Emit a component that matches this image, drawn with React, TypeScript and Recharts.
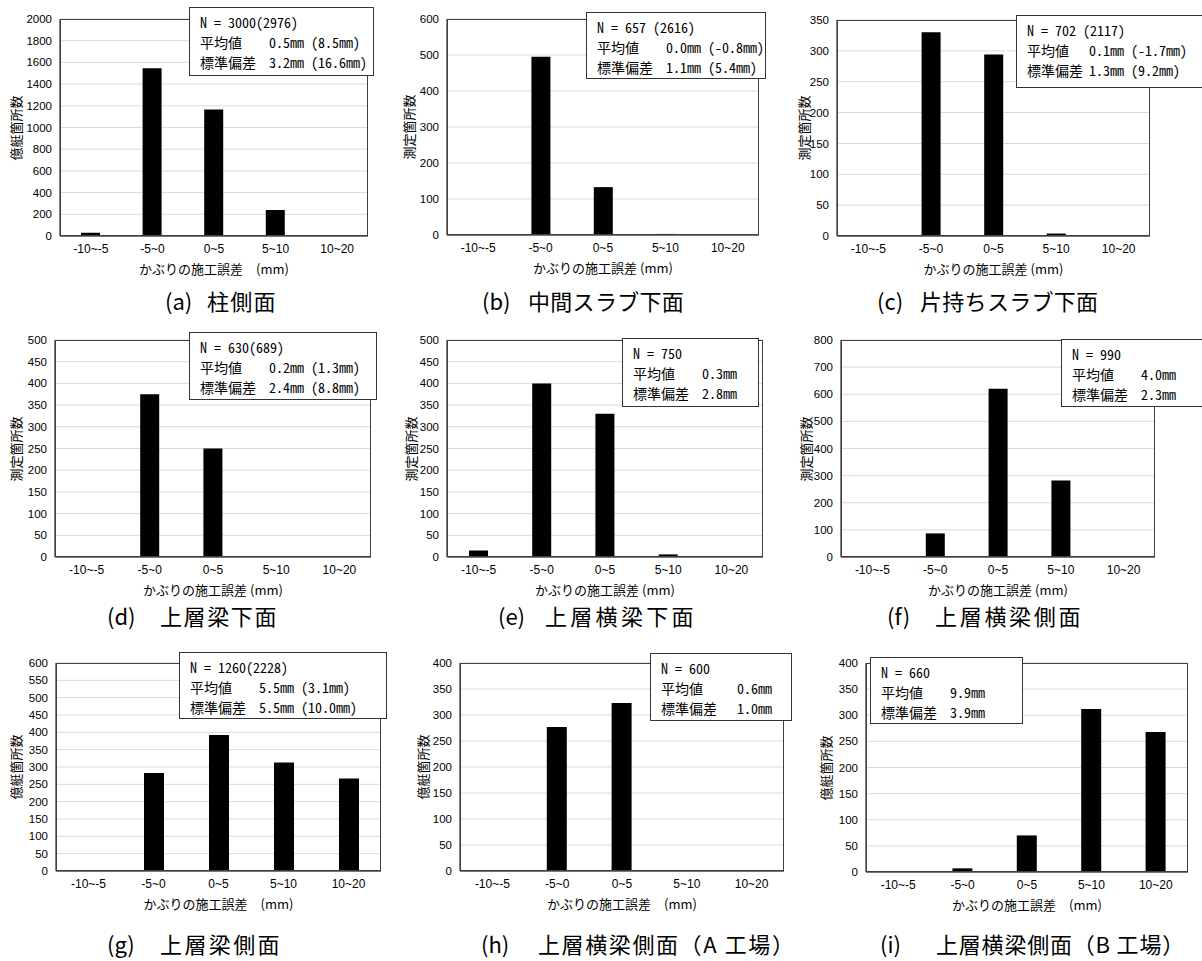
import { BarChart, Bar, XAxis, YAxis, CartesianGrid } from 'recharts'

// bins of cover construction error (mm)
const CATEGORIES = ['-10~-5', '-5~0', '0~5', '5~10', '10~20']

const countsA = [30, 1545, 1165, 240, 8]
const countsB = [0, 495, 133, 3, 0]
const countsC = [0, 330, 294, 4, 0]
const countsD = [2, 375, 250, 2, 0]
const countsE = [15, 400, 330, 6, 2]
const countsF = [0, 87, 620, 282, 0]
const countsG = [0, 283, 392, 313, 267]
const countsH = [0, 277, 323, 0, 0]
const countsI = [0, 7, 70, 312, 268]
const COUNTS = [countsA, countsB, countsC, countsD, countsE, countsF, countsG, countsH, countsI]

const Y_MAX = [2000, 600, 350, 500, 500, 800, 600, 400, 400]
const Y_STEP = [200, 100, 50, 50, 50, 100, 50, 50, 50]

const PREFIXES = ['(a)', '(b)', '(c)', '(d)', '(e)', '(f)', '(g)', '(h)', '(i)']
const CAPTIONS = [
  '柱側面',
  '中間スラブ下面',
  '片持ちスラブ下面',
  '上層梁下面',
  '上層横梁下面',
  '上層横梁側面',
  '上層梁側面',
  '上層横梁側面（A 工場）',
  '上層横梁側面（B 工場）',
]
const Y_TITLES = [
  '億艇箇所数', '測定箇所数', '測定箇所数',
  '測定箇所数', '測定箇所数', '測定箇所数',
  '億艇箇所数', '億艇箇所数', '億艇箇所数',
]
const X_TITLES = [
  'かぶりの施工誤差　(mm)', 'かぶりの施工誤差 (mm)', 'かぶりの施工誤差 (mm)',
  'かぶりの施工誤差 (mm)', 'かぶりの施工誤差 (mm)', 'かぶりの施工誤差 (mm)',
  'かぶりの施工誤差　(mm)', 'かぶりの施工誤差　(mm)', 'かぶりの施工誤差　(mm)',
]
const STAT_N = ['N = 3000(2976)', 'N = 657 (2616)', 'N = 702 (2117)', 'N = 630(689)', 'N = 750', 'N = 990', 'N = 1260(2228)', 'N = 600', 'N = 660']
const STAT_MEAN = ['0.5mm (8.5mm)', '0.0mm (-0.8mm)', '0.1mm (-1.7mm)', '0.2mm (1.3mm)', '0.3mm', '4.0mm', '5.5mm (3.1mm)', '0.6mm', '9.9mm']
const STAT_SD = ['3.2mm (16.6mm)', '1.1mm (5.4mm)', '1.3mm (9.2mm)', '2.4mm (8.8mm)', '2.8mm', '2.3mm', '5.5mm (10.0mm)', '1.0mm', '3.9mm']

// layout (page pixels)
const PLOTS = [
  { l: 60, r: 368, t: 19, b: 236, bar: 19 },
  { l: 447, r: 759, t: 19, b: 235, bar: 19 },
  { l: 837, r: 1150, t: 20, b: 236, bar: 19 },
  { l: 55, r: 371, t: 340, b: 557, bar: 19 },
  { l: 447, r: 763, t: 340, b: 557, bar: 19 },
  { l: 841, r: 1155, t: 340, b: 557, bar: 19 },
  { l: 56, r: 381, t: 663, b: 871, bar: 20 },
  { l: 460, r: 784, t: 663, b: 871, bar: 20 },
  { l: 866, r: 1188, t: 663, b: 872, bar: 20 },
]
const BOXES = [
  { x: 189, y: 7, w: 185, h: 69, col: 69 },
  { x: 586, y: 12, w: 180, h: 67, col: 69 },
  { x: 1016, y: 15, w: 200, h: 73, col: 62 },
  { x: 189, y: 332, w: 188, h: 68, col: 69 },
  { x: 622, y: 338, w: 137, h: 69, col: 69 },
  { x: 1061, y: 339, w: 150, h: 68, col: 69 },
  { x: 179, y: 652, w: 208, h: 67, col: 69 },
  { x: 650, y: 653, w: 142, h: 68, col: 76 },
  { x: 870, y: 657, w: 153, h: 67, col: 69 },
]
const YT_X = [15, 408, 803, 15, 410, 805, 15, 422, 825]
const CAP = [
  { px: 165, tx: 207, y: 300, ls: 1.3 },
  { px: 482, tx: 528, y: 300, ls: 0.3 },
  { px: 877, tx: 920, y: 300, ls: 0.3 },
  { px: 107, tx: 160, y: 615, ls: 1.6 },
  { px: 498, tx: 545, y: 615, ls: 3.3 },
  { px: 887, tx: 935, y: 615, ls: 2.7 },
  { px: 107, tx: 160, y: 943, ls: 2.4 },
  { px: 481, tx: 538, y: 943, ls: 1.6 },
  { px: 880, tx: 936, y: 943, ls: 0.8 },
]

const JP = '"Noto Sans CJK JP", sans-serif'
const MONO = '"Noto Sans Mono CJK JP", "Noto Sans CJK JP", monospace'
const TICK = '"Liberation Sans", Arial, sans-serif'
const Y_AXIS_W = 50
const X_AXIS_H = 30

function Panel({ i }: { i: number }) {
  const p = PLOTS[i]
  const box = BOXES[i]
  const cap = CAP[i]
  const data = CATEGORIES.map((c, k) => ({ cat: c, count: COUNTS[i][k] }))
  const ticks: number[] = []
  for (let v = 0; v <= Y_MAX[i]; v += Y_STEP[i]) ticks.push(v)

  return (
    <>
      <div style={{ position: 'absolute', left: p.l - Y_AXIS_W, top: p.t - 10 }}>
        <BarChart
          width={p.r - p.l + Y_AXIS_W + 10}
          height={p.b - p.t + 10 + X_AXIS_H}
          data={data}
          margin={{ top: 10, right: 10, bottom: 0, left: 0 }}
          barSize={p.bar}
        >
          <CartesianGrid vertical={false} stroke="#d9d9d9" />
          <XAxis
            dataKey="cat"
            height={X_AXIS_H}
            tickLine={false}
            stroke="#000"
            tick={{ fill: '#000', fontSize: 12, fontFamily: TICK }}
            interval={0}
          />
          <YAxis
            width={Y_AXIS_W}
            domain={[0, Y_MAX[i]]}
            ticks={ticks}
            interval={0}
            tickLine={false}
            stroke="#000"
            tick={{ fill: '#000', fontSize: 11.5, fontFamily: TICK }}
          />
          <Bar dataKey="count" fill="#000" isAnimationActive={false} />
        </BarChart>
      </div>
      {/* plot frame */}
      <div
        style={{
          position: 'absolute',
          left: p.l,
          top: p.t,
          width: p.r - p.l,
          height: p.b - p.t,
          border: '1px solid #404040',
          boxSizing: 'border-box',
          pointerEvents: 'none',
        }}
      />
      <div
        style={{
          position: 'absolute',
          left: YT_X[i],
          top: (p.t + p.b) / 2,
          transform: 'translate(-50%, -50%) rotate(-90deg)',
          fontSize: 13,
          fontFamily: JP,
          whiteSpace: 'nowrap',
        }}
      >
        {Y_TITLES[i]}
      </div>
      <div
        style={{
          position: 'absolute',
          left: (p.l + p.r) / 2,
          top: p.b + 32,
          transform: 'translate(-50%, -50%)',
          fontSize: 13,
          fontFamily: JP,
          whiteSpace: 'pre',
        }}
      >
        {X_TITLES[i]}
      </div>
      <div
        style={{
          position: 'absolute',
          left: box.x,
          top: box.y,
          width: box.w,
          height: box.h,
          boxSizing: 'border-box',
          border: '1px solid #333',
          background: '#fff',
          padding: '4px 0 0 10px',
          fontFamily: MONO,
          fontSize: 14,
          lineHeight: '20px',
          whiteSpace: 'pre',
        }}
      >
        <div>{STAT_N[i]}</div>
        <div>
          <span style={{ display: 'inline-block', width: box.col }}>平均値</span>
          {STAT_MEAN[i]}
        </div>
        <div>
          <span style={{ display: 'inline-block', width: box.col }}>標準偏差</span>
          {STAT_SD[i]}
        </div>
      </div>
      <div
        style={{
          position: 'absolute',
          left: cap.px,
          top: cap.y,
          transform: 'translateY(-50%)',
          fontSize: 22,
          fontFamily: JP,
          whiteSpace: 'nowrap',
        }}
      >
        {PREFIXES[i]}
      </div>
      <div
        style={{
          position: 'absolute',
          left: cap.tx,
          top: cap.y,
          transform: 'translateY(-50%)',
          fontSize: 22,
          fontFamily: JP,
          letterSpacing: cap.ls,
          whiteSpace: 'nowrap',
        }}
      >
        {CAPTIONS[i]}
      </div>
    </>
  )
}

export default function App() {
  return (
    <div
      style={{
        position: 'absolute',
        left: 0,
        top: 0,
        width: 1202,
        height: 961,
        overflow: 'hidden',
        background: '#fff',
        color: '#000',
      }}
    >
      {COUNTS.map((_, i) => (
        <Panel key={i} i={i} />
      ))}
    </div>
  )
}
